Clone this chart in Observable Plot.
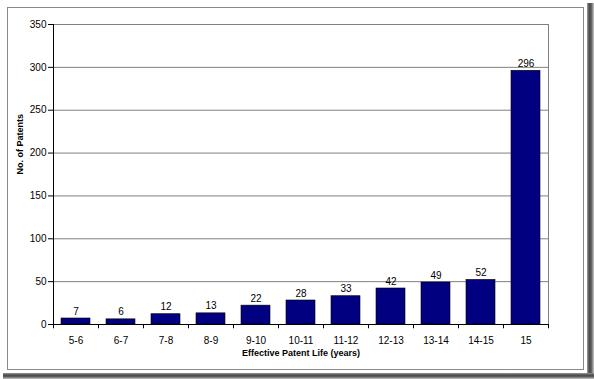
<!DOCTYPE html>
<html>
<head>
<meta charset="utf-8">
<script src="https://cdn.jsdelivr.net/npm/d3@7"></script>
<script src="https://cdn.jsdelivr.net/npm/@observablehq/plot@0.6"></script>
<style>
  html, body { margin: 0; padding: 0; background: #fff; }
  #wrap { position: relative; width: 594px; height: 379px; overflow: hidden; background: #fff; }
  #box { position: absolute; left: 7px; top: 7px; width: 575px; height: 361px;
         border: 1px solid #8a8a8a; background: #fff; }
  #shR { position: absolute; left: 587px; top: 3px; width: 7px; height: 376px;
         background: linear-gradient(to right, #9a9a9a, #4a4a4a 35%, #5a5a5a 60%, #c8c8c8); }
  #shB { position: absolute; left: 3px; top: 373px; width: 591px; height: 6px;
         background: linear-gradient(to bottom, #9a9a9a, #4a4a4a 35%, #5a5a5a 60%, #c8c8c8); }
  #chart { position: absolute; left: 0; top: 0; }
</style>
</head>
<body>
<div id="wrap"><div id="shR"></div><div id="shB"></div><div id="box"></div><div id="chart"></div></div>
<script>
const categories = ["5-6","6-7","7-8","8-9","9-10","10-11","11-12","12-13","13-14","14-15","15"];
const patents = [7, 6, 12, 13, 22, 28, 33, 42, 49, 52, 296];
const yTicks = [0, 50, 100, 150, 200, 250, 300, 350];
const xTitle = "Effective Patent Life (years)";
const yTitle = "No. of Patents";

const data = categories.map((c, i) => ({cat: c, n: patents[i]}));
const W = 594, H = 379, mL = 53, mR = 46, mT = 24, mB = 55;
const band = (W - mL - mR) / categories.length;

const chart = Plot.plot({
  width: W, height: H,
  marginLeft: mL, marginRight: mR, marginTop: mT, marginBottom: mB,
  style: {fontFamily: "'Liberation Sans', Arial, sans-serif", fontSize: "10px", color: "#000", background: "transparent", overflow: "visible"},
  x: {domain: categories, padding: 0, label: null},
  y: {domain: [0, 350], label: null},
  marks: [
    Plot.ruleY(yTicks, {stroke: "#808080", strokeWidth: 1}),
    Plot.frame({anchor: "right", stroke: "#808080"}),
    Plot.barY(data, {x: "cat", y: "n", fill: "#000080", stroke: "#000", strokeWidth: 0.6, insetLeft: 8, insetRight: 8}),
    Plot.text(data, {x: "cat", y: "n", text: d => String(d.n), lineAnchor: "bottom", dy: -4, fontSize: 10, fill: "#000"}),
    Plot.ruleX(categories, {x: d => d, dx: -band / 2, y1: 0, y2: -5, stroke: "#000"}),
    Plot.ruleX(categories.slice(-1), {x: d => d, dx: band / 2, y1: 0, y2: -5, stroke: "#000"}),
    Plot.ruleY([0], {stroke: "#000"}),
    Plot.frame({anchor: "left", stroke: "#000"}),
    Plot.axisY({ticks: yTicks, tickSize: 5, tickPadding: 2, fontSize: 10, label: null}),
    Plot.axisX({tickSize: 0, tickPadding: 12, fontSize: 10, label: null}),
    Plot.text([xTitle], {frameAnchor: "bottom", dy: 31, fontWeight: "bold", fontSize: 9, fill: "#000", style: "letter-spacing:0.1px"}),
    Plot.text([yTitle], {frameAnchor: "left", dx: -33, rotate: -90, fontWeight: "bold", fontSize: 9, fill: "#000"})
  ]
});
document.getElementById("chart").appendChild(chart);
</script>
</body>
</html>
